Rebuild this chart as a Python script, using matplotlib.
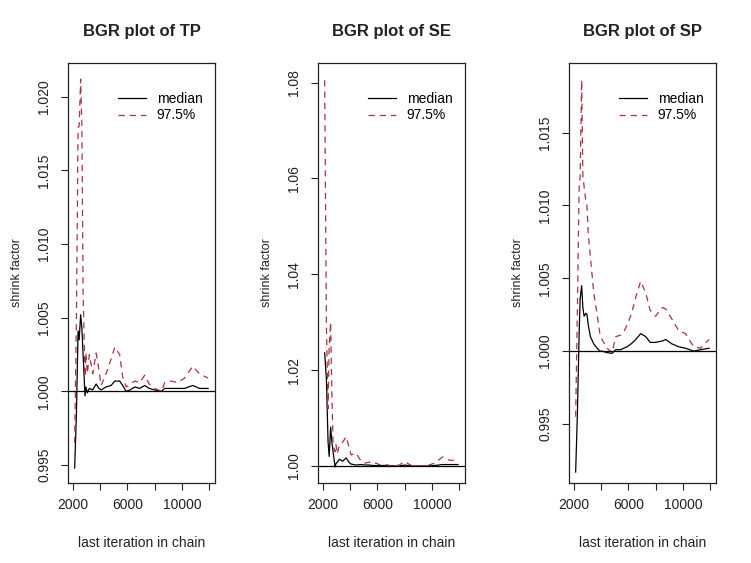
import matplotlib
matplotlib.use("Agg")
import matplotlib.pyplot as plt

plt.rcParams['font.family'] = ['Liberation Sans', 'DejaVu Sans']

# last iteration in chain (shared by all three panels)
iters = [2120, 2250, 2370, 2450, 2560, 2650, 2740, 2880, 2950, 3050, 3200, 3450,
         3700, 3900, 4060, 4430, 4800, 5070, 5430, 5650, 5900, 6200, 6540, 6900,
         7270, 7600, 8000, 8500, 8740, 9200, 9700, 10200, 10800, 11300, 11930]

tp_median = [0.9948, 0.9985, 1.0041, 1.0035, 1.0052, 1.0043, 1.0025, 0.9997, 1.0003,
             0.9999, 1.0002, 1.0001, 1.0005, 1.0002, 1.0001, 1.0003, 1.0004, 1.0007,
             1.0007, 1.0004, 1.0000, 1.0001, 1.0003, 1.0002, 1.0004, 1.0002, 1.0001,
             1.0000, 1.0002, 1.0002, 1.0002, 1.0002, 1.0004, 1.0002, 1.0002]
tp_q975 = [0.9965, 1.0050, 1.0179, 1.0180, 1.0212, 1.0180, 1.0068, 1.0010, 1.0026,
           1.0012, 1.0025, 1.0012, 1.0026, 1.0015, 1.0004, 1.0012, 1.0022, 1.0030,
           1.0025, 1.0010, 1.0003, 1.0005, 1.0007, 1.0006, 1.0011, 1.0005, 1.0002,
           1.0000, 1.0006, 1.0007, 1.0006, 1.0009, 1.0017, 1.0012, 1.0009]

se_median = [1.0236, 1.0180, 1.0050, 1.0020, 1.0081, 1.0050, 1.0030, 0.9998, 1.0005,
             1.0008, 1.0014, 1.0010, 1.0017, 1.0008, 1.0004, 1.0002, 1.0003, 1.0002,
             1.0002, 1.0001, 1.0001, 1.0001, 1.0001, 1.0001, 1.0000, 1.0000, 1.0002,
             1.0000, 1.0000, 1.0000, 1.0000, 1.0001, 1.0003, 1.0003, 1.0003]
se_q975 = [1.0805, 1.0290, 1.0120, 1.0250, 1.0300, 1.0150, 1.0045, 1.0030, 1.0045,
           1.0025, 1.0044, 1.0050, 1.0061, 1.0040, 1.0023, 1.0027, 1.0010, 1.0006,
           1.0008, 1.0004, 1.0006, 1.0002, 1.0003, 1.0001, 1.0000, 1.0002, 1.0009,
           1.0001, 1.0000, 1.0000, 1.0001, 1.0006, 1.0019, 1.0012, 1.0012]

sp_median = [0.9917, 0.9958, 1.0010, 1.0036, 1.0045, 1.0030, 1.0024, 1.0026, 1.0025,
             1.0018, 1.0010, 1.0005, 1.0002, 1.0000, 1.0000, 0.9999, 0.99985, 1.0001,
             1.0001, 1.0002, 1.0003, 1.0005, 1.0008, 1.0012, 1.0010, 1.0006, 1.0006,
             1.0007, 1.0008, 1.0005, 1.0003, 1.0002, 1.0000, 1.0001, 1.0002]
sp_q975 = [0.9955, 1.0030, 1.0111, 1.0120, 1.0186, 1.0120, 1.0113, 1.0102, 1.0100,
           1.0080, 1.0065, 1.0040, 1.0025, 1.0012, 1.0008, 1.0002, 0.9999, 1.0010,
           1.0011, 1.0013, 1.0018, 1.0025, 1.0037, 1.0048, 1.0040, 1.0028, 1.0024,
           1.0030, 1.0029, 1.0022, 1.0014, 1.0012, 1.0003, 1.0002, 1.0008]

titles = ["BGR plot of TP", "BGR plot of SE", "BGR plot of SP"]
medians = [tp_median, se_median, sp_median]
uppers = [tp_q975, se_q975, sp_q975]
ylims = [(0.99378, 1.02229), (0.99645, 1.0841), (0.99095, 1.01978)]
yticks = [[0.995, 1.000, 1.005, 1.010, 1.015, 1.020],
          [1.00, 1.02, 1.04, 1.06, 1.08],
          [0.995, 1.000, 1.005, 1.010, 1.015]]
yfmt = ["{:.3f}", "{:.2f}", "{:.3f}"]
xticks = [2000, 4000, 6000, 8000, 10000, 12000]
xticklabels = ["2000", "", "6000", "", "10000", ""]

red = "#a8343e"
ink = "#222222"
fig = plt.figure(figsize=(7.51, 5.63), dpi=100)
lefts = [68, 318, 569]

for i in range(3):
    ax = fig.add_axes([lefts[i] / 751, 1 - 483 / 563, 147 / 751, 420 / 563])
    ax.plot(iters, medians[i], color="black", lw=0.9, label="median")
    ax.plot(iters, uppers[i], color=red, lw=0.9, dashes=(5, 4), label="97.5%")
    ax.axhline(1.0, color="black", lw=0.9)
    ax.set_xlim(1630, 12440)
    ax.set_ylim(*ylims[i])
    ax.set_xticks(xticks)
    ax.set_xticklabels(xticklabels)
    ax.set_yticks(yticks[i])
    ax.set_yticklabels([yfmt[i].format(v) for v in yticks[i]], rotation=90, va="center")
    ax.tick_params(direction="out", length=5, width=0.8, labelsize=10, colors=ink)
    ax.tick_params(axis="y", pad=7)
    ax.tick_params(axis="x", pad=6)
    for s in ax.spines.values():
        s.set_linewidth(0.9)
        s.set_color(ink)
    ax.set_title(titles[i], fontsize=12, fontweight="bold", y=1.045, color=ink)
    ax.set_xlabel("last iteration in chain", fontsize=10, color=ink)
    ax.xaxis.set_label_coords(0.5, -0.127)
    ax.set_ylabel("shrink factor", fontsize=9, color=ink)
    ax.yaxis.set_label_coords(-0.305, 0.5)
    ax.legend(loc="upper right", bbox_to_anchor=(1.01, 0.965), frameon=False,
              fontsize=10, handlelength=2.0, handletextpad=0.8,
              borderaxespad=0.6, labelspacing=0.2)

fig.savefig("out.png", dpi=100)
